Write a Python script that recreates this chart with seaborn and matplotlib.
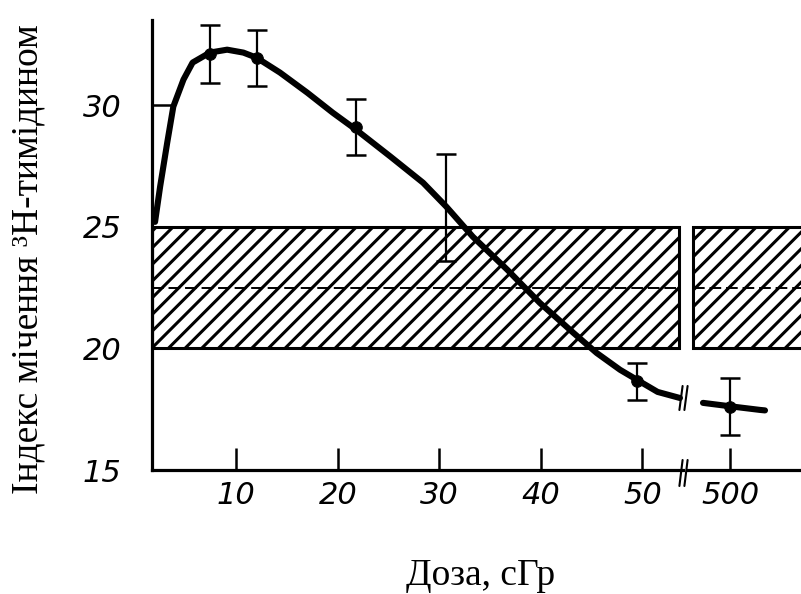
import matplotlib
matplotlib.use("Agg")
import matplotlib.pyplot as plt
import seaborn as sns
import numpy as np

# ---- data ----
# measured points (dose, index, error)
dose_pts = [7.4, 12.0, 21.8, 30.7, 49.5]
index_pts = [32.1, 31.95, 29.1, 25.8, 18.65]
err_pts = [1.2, 1.15, 1.15, 2.2, 0.76]
dose_hi = [500]
index_hi = [17.6]
err_hi = [1.17]

# traced smooth curve (low-dose segment)
curve_dose = [2.0, 2.5, 3.2, 3.8, 4.8, 5.7, 7.4, 9.1, 10.7, 12.0, 14.3, 17.0, 19.5,
              21.8, 25.2, 28.4, 30.7, 33.3, 36.7, 39.9, 43.2, 45.5, 47.8, 49.5, 51.5, 53.7]
curve_index = [25.2, 26.65, 28.46, 29.94, 31.05, 31.75, 32.16, 32.28, 32.16, 31.95, 31.34,
               30.51, 29.69, 28.99, 27.88, 26.81, 25.82, 24.59, 23.23, 21.87, 20.64, 19.81,
               19.12, 18.7, 18.21, 17.96]
# traced curve after the break
curve_dose_hi = [473, 500, 530, 535]
curve_index_hi = [17.76, 17.62, 17.47, 17.45]

# control band
band_low, band_high, band_mean = 20, 25, 22.5

x_ticks_lo = [10, 20, 30, 40, 50]
x_ticks_hi = [500]
y_ticks = [15, 20, 25, 30]

# ---- styling ----
sns.set_theme(style="white")
plt.rcParams["hatch.linewidth"] = 2.2
plt.rcParams["hatch.color"] = "black"
plt.rcParams["font.family"] = ["DejaVu Sans"]
W, H = 801, 594
fig = plt.figure(figsize=(W / 100, H / 100), dpi=100)
fig.patch.set_facecolor("white")

ax_bottom = (H - 470) / H
ax_h = (470 - 20) / H
ax1 = fig.add_axes([152 / W, ax_bottom, (683 - 152) / W, ax_h])
ax2 = fig.add_axes([688 / W, ax_bottom, (W - 688) / W, ax_h])

tick_font = dict(family=["Liberation Sans Narrow", "DejaVu Sans"], style="italic",
                 size=22, color="black")

for ax in (ax1, ax2):
    ax.set_facecolor("white")
    ax.set_ylim(15, 33.5)
    for s in ax.spines.values():
        s.set_linewidth(2.3)
        s.set_color("black")
    ax.spines["top"].set_visible(False)
    ax.spines["right"].set_visible(False)
    ax.tick_params(axis="x", direction="in", length=16, width=1.8, color="black",
                   pad=8, bottom=True)
    ax.grid(False)

ax2.spines["left"].set_visible(False)
ax1.set_xlim(1.7, 54.0)
ax2.set_xlim(458, 571)

ax1.set_xticks(x_ticks_lo)
ax1.set_xticklabels([str(v) for v in x_ticks_lo], **tick_font)
ax2.set_xticks(x_ticks_hi)
ax2.set_xticklabels([str(v) for v in x_ticks_hi], **tick_font)

ax1.set_yticks(y_ticks)
ax1.set_yticklabels([str(v) for v in y_ticks], **tick_font)
ax1.tick_params(axis="y", direction="in", length=16, width=1.8, color="black",
                pad=22, left=True)
ax2.set_yticks([])

# ---- control band (hatched) ----
ax1.axhspan(band_low, band_high, xmin=0, xmax=0.993, facecolor="none",
            edgecolor="black", hatch="//", linewidth=2.2)
ax1.axhline(band_mean, xmin=0, xmax=0.993, color="black", lw=1.4, ls=(0, (6, 2.5)))
ax2.axhspan(band_low, band_high, xmin=0.045, xmax=1.05, facecolor="none",
            edgecolor="black", hatch="//", linewidth=2.2)
ax2.axhline(band_mean, xmin=0.045, xmax=1.0, color="black", lw=1.4, ls=(0, (6, 2.5)))

# ---- curve ----
sns.lineplot(x=curve_dose, y=curve_index, ax=ax1, color="black", lw=4.4,
             sort=False, estimator=None, zorder=4)
sns.lineplot(x=curve_dose_hi, y=curve_index_hi, ax=ax2, color="black", lw=4.4,
             sort=False, estimator=None, zorder=4)

# ---- error bars and points ----
ax1.errorbar(dose_pts, index_pts, yerr=err_pts, fmt="none", ecolor="black",
             elinewidth=1.6, capsize=7, capthick=1.8, zorder=5)
ax2.errorbar(dose_hi, index_hi, yerr=err_hi, fmt="none", ecolor="black",
             elinewidth=1.6, capsize=7, capthick=1.8, zorder=5)
sns.scatterplot(x=dose_pts[:3] + dose_pts[4:], y=index_pts[:3] + index_pts[4:], ax=ax1,
                color="black", s=70, edgecolor="black", zorder=6)
sns.scatterplot(x=dose_hi, y=index_hi, ax=ax2, color="black", s=70,
                edgecolor="black", zorder=6)

# ---- break marks ----
for dx in (-4, 1):
    x0 = (685 + dx) / W
    fig.add_artist(plt.Line2D([x0 - 0.002, x0 + 0.002], [1 - 486 / H, 1 - 460 / H],
                              color="black", lw=1.5))
    fig.add_artist(plt.Line2D([x0 - 0.002, x0 + 0.002], [1 - 410 / H, 1 - 386 / H],
                              color="black", lw=1.5))

# ---- axis titles ----
fig.text(28 / W, 1 - 259 / H, "Індекс мічення ³H-тимідином", rotation=90,
         ha="center", va="center", family=["Liberation Serif", "DejaVu Serif"], size=27,
         color="black")
fig.text(481 / W, 1 - 576 / H, "Доза, сГр", ha="center", va="center",
         family=["Liberation Serif", "DejaVu Serif"], size=27, color="black")

fig.savefig("out.png", dpi=100, facecolor="white")
